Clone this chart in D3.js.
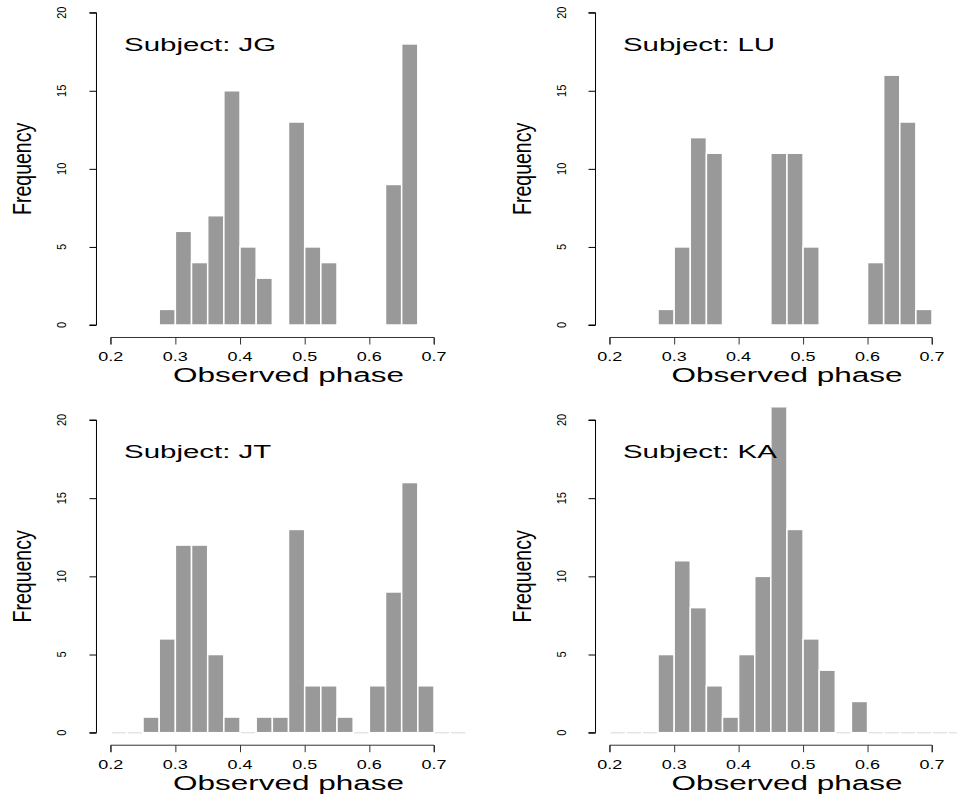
<!DOCTYPE html>
<html>
<head>
<meta charset="utf-8">
<script src="https://cdn.jsdelivr.net/npm/d3@7"></script>
<style>
  body { margin: 0; background: #fff; }
  svg { display: block; }
  text { font-family: "Liberation Sans", Arial, Helvetica, sans-serif; fill: #000; }
</style>
</head>
<body>
<div id="chart"></div>
<script>
const width = 957;
const height = 794;

// histogram bins: left edges, width 0.025
const binStarts = [0.200, 0.225, 0.250, 0.275, 0.300, 0.325, 0.350, 0.375, 0.400, 0.425, 0.450,
                   0.475, 0.500, 0.525, 0.550, 0.575, 0.600, 0.625, 0.650, 0.675, 0.700, 0.725];
const binWidth = 0.025;

const subjects = ["JG", "LU", "JT", "KA"];
const countsJG = [0, 0, 0, 1, 6, 4, 7, 15, 5, 3, 0, 13, 5, 4, 0, 0, 0, 9, 18, 0, 0, 0];
const countsLU = [0, 0, 0, 1, 5, 12, 11, 0, 0, 0, 11, 11, 5, 0, 0, 0, 4, 16, 13, 1, 0, 0];
const countsJT = [0, 0, 1, 6, 12, 12, 5, 1, 0, 1, 1, 13, 3, 3, 1, 0, 3, 9, 16, 3, 0, 0];
const countsKA = [0, 0, 0, 5, 11, 8, 3, 1, 5, 10, 21, 13, 6, 4, 0, 2, 0, 0, 0, 0, 0, 0];

const xTicks = [0.2, 0.3, 0.4, 0.5, 0.6, 0.7];
const yTicks = [0, 5, 10, 15, 20];

// panel placement (pixel position of x=0.2, x=0.7, y=0, y=20)
const panels = [
  { name: subjects[0], counts: countsJG, x0: 110.7, x1: 434, y0: 325, y1: 12.7, showEmpty: false },
  { name: subjects[1], counts: countsLU, x0: 609.7, x1: 932, y0: 325, y1: 12.7, showEmpty: false },
  { name: subjects[2], counts: countsJT, x0: 110.7, x1: 434, y0: 732.7, y1: 420, showEmpty: true },
  { name: subjects[3], counts: countsKA, x0: 609.7, x1: 932, y0: 732.7, y1: 420, showEmpty: true }
];

const svg = d3.select("#chart").append("svg")
    .attr("width", width)
    .attr("height", height);

// text is drawn wider than tall, like the stretched original
function stretchedText(g, x, y, str, size, sx, rotated) {
  return g.append("text")
      .attr("transform", "translate(" + x + "," + y + ") scale(" + sx + ",1)" + (rotated ? " rotate(-90)" : ""))
      .attr("text-anchor", rotated ? "middle" : "start")
      .style("font-size", size + "px")
      .text(str);
}

panels.forEach(function(p, i) {
  const x = d3.scaleLinear().domain([0.2, 0.7]).range([p.x0, p.x1]);
  const y = d3.scaleLinear().domain([0, 20]).range([p.y0, p.y1]);
  const left = x(0.178), right = x(0.772);
  const top = y(20.8), bottom = y(-0.8);

  const g = svg.append("g");

  g.append("clipPath")
      .attr("id", "clip" + i)
    .append("rect")
      .attr("x", left).attr("y", top)
      .attr("width", right - left).attr("height", bottom - top);

  const bins = binStarts.map(function(b, j) { return { x0: b, x1: b + binWidth, n: p.counts[j] }; });

  // empty bins: faint baseline
  if (p.showEmpty) {
    g.selectAll(".empty")
      .data(bins.filter(function(d) { return d.n === 0; }))
      .enter().append("line")
        .attr("x1", function(d) { return x(d.x0) + 1; })
        .attr("x2", function(d) { return x(d.x1) - 1; })
        .attr("y1", y(0)).attr("y2", y(0))
        .attr("stroke", "#e4e4e4")
        .attr("stroke-width", 1.5);
  }

  g.append("g")
      .attr("clip-path", "url(#clip" + i + ")")
    .selectAll("rect")
    .data(bins.filter(function(d) { return d.n > 0; }))
    .enter().append("rect")
      .attr("x", function(d) { return x(d.x0); })
      .attr("y", function(d) { return y(d.n); })
      .attr("width", function(d) { return x(d.x1) - x(d.x0); })
      .attr("height", function(d) { return y(0) - y(d.n); })
      .attr("fill", "#999999")
      .attr("stroke", "#ffffff")
      .attr("stroke-width", 1.5);

  // x axis
  const xa = g.append("g")
      .attr("transform", "translate(0," + bottom + ")")
      .call(d3.axisBottom(x).tickValues(xTicks).tickSize(7).tickFormat(""));
  xa.select(".domain").attr("d", "M" + x(0.2) + ",7V0H" + x(0.7) + "V7").attr("stroke", "#333");
  xa.selectAll(".tick line").attr("stroke", "#333");
  xTicks.forEach(function(t) {
    stretchedText(g, x(t), bottom + 23.5, d3.format(".1f")(t), 12, 1.5, false)
      .attr("text-anchor", "middle");
  });

  // y axis
  const ya = g.append("g")
      .attr("transform", "translate(" + left + ",0)")
      .call(d3.axisLeft(y).tickValues(yTicks).tickSize(7).tickFormat(""));
  ya.select(".domain").attr("d", "M-7," + y(20) + "H0V" + y(0) + "H-7").attr("stroke", "#000");
  ya.selectAll(".tick line").attr("stroke", "#000");
  yTicks.forEach(function(t) {
    stretchedText(g, left - 30, y(t), String(t), 11, 1.1, true);
  });

  // labels
  stretchedText(g, left - 65, (top + bottom) / 2, "Frequency", 19.5, 1.36, true);
  stretchedText(g, (left + right) / 2, bottom + 45, "Observed phase", 21, 1.5, false)
      .attr("text-anchor", "middle");
  stretchedText(g, x(0.2206), y(17.55), "Subject: " + p.name, 19, 1.55, false);
});
</script>
</body>
</html>
